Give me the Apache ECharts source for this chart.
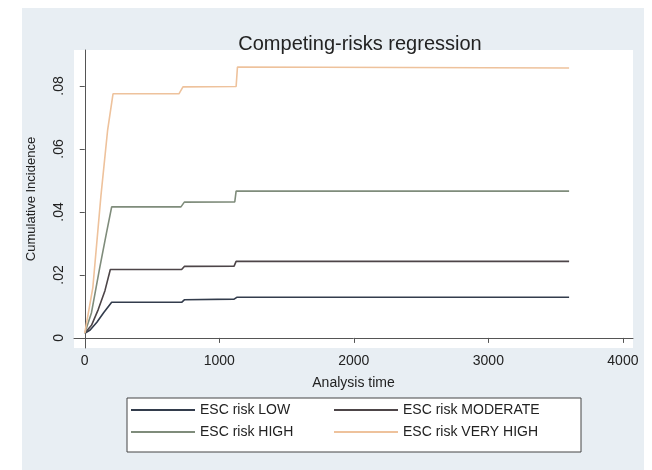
<!DOCTYPE html>
<html>
<head>
<meta charset="utf-8">
<script src="https://cdn.jsdelivr.net/npm/echarts@6/dist/echarts.min.js"></script>
<style>
html,body{margin:0;padding:0;background:#ffffff;}
#chart{width:652px;height:470px;}
</style>
</head>
<body>
<div id="chart"></div>
<script>
// ---- data (analysis time in days, cumulative incidence) ----
var seriesNames = ['ESC risk LOW', 'ESC risk MODERATE', 'ESC risk HIGH', 'ESC risk VERY HIGH'];
var timeLow = [0, 40, 90, 140, 200, 720, 740, 1110, 1130, 3600];
var valLow  = [0.0015, 0.0025, 0.005, 0.008, 0.0113, 0.0113, 0.0121, 0.0123, 0.0129, 0.0129];
var timeMod = [0, 50, 100, 150, 190, 720, 740, 1110, 1125, 3600];
var valMod  = [0.0015, 0.004, 0.009, 0.015, 0.0217, 0.0217, 0.0227, 0.0228, 0.0243, 0.0243];
var timeHigh = [0, 50, 110, 160, 200, 715, 740, 1115, 1125, 3600];
var valHigh  = [0.0015, 0.008, 0.022, 0.033, 0.0416, 0.0416, 0.0431, 0.0432, 0.0466, 0.0466];
var timeVHigh = [0, 60, 120, 170, 210, 700, 730, 1125, 1135, 3600];
var valVHigh  = [0.0015, 0.016, 0.045, 0.066, 0.0775, 0.0775, 0.0797, 0.0798, 0.0860, 0.0857];
var xTicks = [0, 1000, 2000, 3000, 4000];
var xTickLabels = ['0', '1000', '2000', '3000', '4000'];
var yTicks = [0, 0.02, 0.04, 0.06, 0.08];
var yTickLabels = ['0', '.02', '.04', '.06', '.08'];

function pairs(t, v) { return t.map(function (x, i) { return [x, v[i]]; }); }

var colors = ['#333c4c', '#4d4548', '#7f8c7b', '#eec29c'];
var seriesData = [pairs(timeLow, valLow), pairs(timeMod, valMod), pairs(timeHigh, valHigh), pairs(timeVHigh, valVHigh)];

var chart = echarts.init(document.getElementById('chart'), null, {renderer: 'canvas'});
var font = 'Liberation Sans, Arial, sans-serif';
var option = {
  animation: false,
  backgroundColor: '#ffffff',
  graphic: [
    {type: 'rect', z: -10, shape: {x: 22, y: 8, width: 622, height: 462}, style: {fill: '#e8eef3'}},
    {type: 'rect', z: -9, shape: {x: 74, y: 50, width: 559, height: 298}, style: {fill: '#ffffff'}},
    {type: 'rect', z: -8, shape: {x: 127, y: 398, width: 454, height: 54}, style: {fill: '#ffffff', stroke: '#444', lineWidth: 1}}
  ],
  title: {
    text: 'Competing-risks regression',
    left: 355, top: 29, textAlign: 'center',
    textStyle: {fontFamily: font, fontSize: 20, fontWeight: 'normal', color: '#222'}
  },
  grid: {left: 74, right: 19, top: 50, bottom: 122, containLabel: false},
  color: colors,
  legend: [
    {
      data: [seriesNames[0], seriesNames[2]], orient: 'vertical', left: 131, top: 401,
      itemWidth: 64, itemHeight: 2, icon: 'rect', itemGap: 4, padding: 0,
      textStyle: {fontFamily: font, fontSize: 14, color: '#222', lineHeight: 18}
    },
    {
      data: [seriesNames[1], seriesNames[3]], orient: 'vertical', left: 334, top: 401,
      itemWidth: 64, itemHeight: 2, icon: 'rect', itemGap: 4, padding: 0,
      textStyle: {fontFamily: font, fontSize: 14, color: '#222', lineHeight: 18}
    }
  ],
  xAxis: {
    type: 'value', min: -80, max: 4075,
    name: 'Analysis time', nameLocation: 'middle', nameGap: 28,
    nameTextStyle: {fontFamily: font, fontSize: 14, color: '#222'},
    axisLine: {show: true, lineStyle: {color: '#555', width: 1}},
    axisTick: {show: true, length: 5, customValues: xTicks, lineStyle: {color: '#555'}},
    axisLabel: {
      customValues: xTicks, fontFamily: font, fontSize: 14, color: '#222', margin: 6,
      formatter: function (v) { var i = xTicks.indexOf(v); return i >= 0 ? xTickLabels[i] : ''; }
    },
    splitLine: {show: false}
  },
  yAxis: {
    type: 'value', min: -0.0032, max: 0.0914,
    name: 'Cumulative Incidence', nameLocation: 'middle', nameGap: 36, nameRotate: 90,
    nameTextStyle: {fontFamily: font, fontSize: 13, color: '#222'},
    axisLine: {show: true, lineStyle: {color: '#555', width: 1}},
    axisTick: {show: true, length: 5, customValues: yTicks, lineStyle: {color: '#555'}},
    axisLabel: {
      customValues: yTicks, rotate: 90, fontFamily: font, fontSize: 14, color: '#222', margin: 8,
      formatter: function (v) { var i = yTicks.indexOf(v); return i >= 0 ? yTickLabels[i] : ''; }
    },
    splitLine: {show: false}
  },
  series: seriesNames.map(function (n, i) {
    return {
      name: n, type: 'line', data: seriesData[i], showSymbol: false, symbol: 'none',
      lineStyle: {width: 1.6, color: colors[i]}, itemStyle: {color: colors[i]}
    };
  })
};
chart.setOption(option);
</script>
</body>
</html>
